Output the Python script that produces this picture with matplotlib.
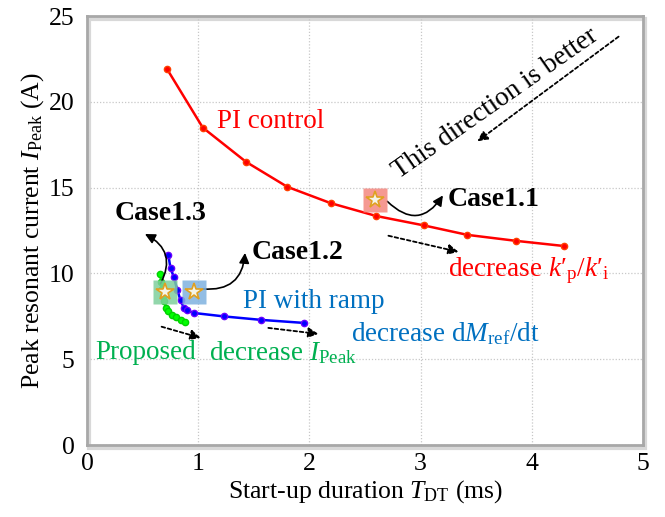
import matplotlib.pyplot as plt
from matplotlib.patches import Rectangle

plt.rcParams['font.family'] = ['Liberation Serif', 'DejaVu Serif']
plt.rcParams['mathtext.fontset'] = 'custom'
plt.rcParams['mathtext.rm'] = 'Liberation Serif'
plt.rcParams['mathtext.it'] = 'Liberation Serif:italic'
plt.rcParams['mathtext.bf'] = 'Liberation Serif:bold'

# PI control (sweep of k'p/k'i)
pi_t = [0.72, 1.04, 1.43, 1.80, 2.19, 2.60, 3.03, 3.42, 3.86, 4.29]
pi_i = [21.9, 18.5, 16.5, 15.05, 14.1, 13.35, 12.8, 12.25, 11.9, 11.6]

# PI with ramp (sweep of dMref/dt)
ramp_t = [0.73, 0.75, 0.78, 0.81, 0.84, 0.87, 0.90, 0.96, 1.23, 1.56, 1.95]
ramp_i = [11.1, 10.3, 9.8, 9.05, 8.45, 8.0, 7.85, 7.7, 7.5, 7.3, 7.12]

# proposed method (sweep of IPeak)
prop_t = [0.66, 0.665, 0.67, 0.68, 0.69, 0.71, 0.73, 0.76, 0.80, 0.84, 0.88]
prop_i = [9.95, 9.5, 9.1, 8.7, 8.4, 8.0, 7.8, 7.6, 7.45, 7.3, 7.15]

# highlighted operating points
case_names = ['Case1.1', 'Case1.2', 'Case1.3']
case_t = [2.59, 0.96, 0.70]
case_i = [14.3, 8.95, 8.95]
case_fill = ['#f4877f', '#7fb2e0', '#7fcf9c']

FS = 19.5

fig = plt.figure(figsize=(6.65, 5.17), dpi=100)
ax = fig.add_axes([0.131, 0.139, 0.836, 0.830])

ax.plot(pi_t, pi_i, color='#ff0000', lw=1.8, marker='o', ms=4.5,
        mfc='#ff0000', mec='#ff4000', zorder=3)
ax.plot(ramp_t, ramp_i, color='#0000ff', lw=1.8, marker='o', ms=4.5,
        mfc='#0000ff', mec='#6a00ff', zorder=3)
ax.plot(prop_t, prop_i, color='#00ee00', lw=1.8, marker='o', ms=4.5,
        mfc='#00ff00', mec='#00d000', zorder=3)

for t, i, c in zip(case_t, case_i, case_fill):
    ax.plot(t, i, marker='s', ms=17, mfc=c, mec='none', alpha=0.85, zorder=4)
    ax.plot(t, i, marker='*', ms=13, mfc='#f4f4e8', mec='#e0a020', mew=1.2, zorder=5)

ax.set_xlim(0, 5)
ax.set_ylim(0, 25)
ax.set_xticks(range(0, 6))
ax.set_yticks(range(0, 26, 5))
ax.grid(True, color='#c8c8c8', ls=(0, (1, 1.5)), lw=0.9)
ax.tick_params(length=0, labelsize=18.5)
ax.tick_params(axis='x', pad=6)
ax.tick_params(axis='y', pad=9)
for s in ax.spines.values():
    s.set_color('#a8a8a8')
    s.set_linewidth(2)

# soft shadow round the plot frame
ax.add_patch(Rectangle((0.004, -0.006), 1.0, 1.0, transform=ax.transAxes,
                       fill=False, ec='#d8d8d8', lw=3, zorder=0, clip_on=False))

ax.set_xlabel(r'Start-up duration $\mathit{T}_{\mathrm{DT}}$ (ms)', fontsize=18.5, labelpad=2)
ax.set_ylabel(r'Peak resonant current $\mathit{I}_{\mathrm{Peak}}$ (A)', fontsize=18.5, labelpad=2)

ax.text(1.17, 18.85, 'PI control', color='#ff0000', fontsize=FS, va='center')
ax.text(3.25, 10.15, r"decrease $\mathit{k}$′$_{\mathrm{p}}$/$\mathit{k}$′$_{\mathrm{i}}$",
        color='#ff0000', fontsize=FS, va='center')
ax.text(1.40, 8.35, 'PI with ramp', color='#0070c0', fontsize=FS, va='center')
ax.text(2.37, 6.5, r'decrease d$\mathit{M}_{\mathrm{ref}}$/dt', color='#0070c0',
        fontsize=FS, va='center')
ax.text(0.07, 5.4, 'Proposed', color='#00b050', fontsize=FS, va='center')
ax.text(1.10, 5.4, r'decrease $\mathit{I}_{\mathrm{Peak}}$', color='#00b050',
        fontsize=FS, va='center')
ax.text(3.67, 19.9, 'This direction is better', fontsize=FS, rotation=35,
        ha='center', va='center')

dotted = dict(arrowstyle='-|>,head_length=0.6,head_width=0.3', color='black',
              lw=1.3, ls=(0, (2, 1.5)), shrinkA=0, shrinkB=0)
ax.annotate('', xy=(3.51, 17.7), xytext=(4.78, 23.8), arrowprops=dotted)
ax.annotate('', xy=(3.34, 11.26), xytext=(2.71, 12.2), arrowprops=dotted)
ax.annotate('', xy=(2.08, 6.48), xytext=(1.63, 6.83), arrowprops=dotted)
ax.annotate('', xy=(1.02, 6.25), xytext=(0.67, 6.9), arrowprops=dotted)

curved = dict(arrowstyle='-|>,head_length=0.6,head_width=0.3', color='black',
              lw=1.2, shrinkA=0, shrinkB=0)
ax.text(3.24, 14.3, case_names[0], fontsize=20, fontweight='bold', va='center')
ax.annotate('', xy=(3.2, 14.55), xytext=(2.7, 14.2),
            arrowprops=dict(curved, connectionstyle='arc3,rad=0.6'))
ax.text(1.48, 11.2, case_names[1], fontsize=20, fontweight='bold', va='center')
ax.annotate('', xy=(1.42, 11.2), xytext=(1.04, 9.1),
            arrowprops=dict(curved, connectionstyle='arc3,rad=0.5'))
ax.text(0.25, 13.5, case_names[2], fontsize=20, fontweight='bold', va='center')
ax.annotate('', xy=(0.52, 12.3), xytext=(0.66, 9.4),
            arrowprops=dict(curved, connectionstyle='arc3,rad=0.5'))

fig.savefig('out.png', dpi=100)
